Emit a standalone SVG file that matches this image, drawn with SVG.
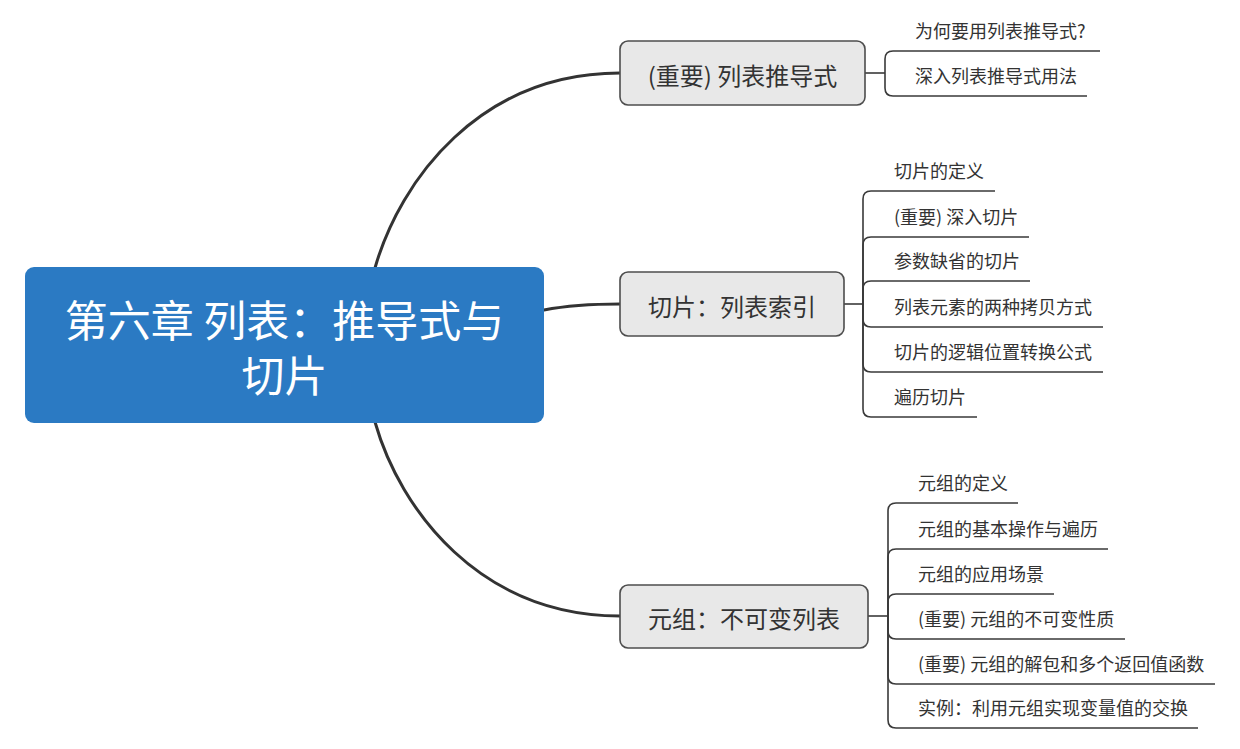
<svg xmlns="http://www.w3.org/2000/svg" width="1240" height="749" viewBox="0 0 1240 749">
<style>
.main{fill:none;stroke:#333;stroke-width:3;stroke-linecap:round}
.sub{fill:none;stroke:#3a3a3a;stroke-width:1.6}
.branch rect{fill:#e8e8e8;stroke:#4d4d4d;stroke-width:1.6}
.bt{font-family:"Noto Sans CJK SC","Noto Sans",sans-serif;font-size:24px;fill:#333;text-anchor:middle;dominant-baseline:central}
.st{font-family:"Noto Sans CJK SC","Noto Sans",sans-serif;font-size:18px;fill:#333}
.ct{font-family:"Noto Sans CJK SC","Noto Sans",sans-serif;font-size:43px;fill:#fff;text-anchor:middle;dominant-baseline:central}
</style>
<rect width="1240" height="749" fill="#fff"/>
<g id="connectors">
<path class="main" d="M375 268 C400 180 480 73 620 73"/>
<path class="main" d="M544 310 C570 305 590 304 620 304"/>
<path class="main" d="M375 422 C400 510 480 616 620 616"/>
<path class="sub" d="M865 73 H885"/>
<path class="sub" d="M885 73 V59 Q885 51 893 51 H1100"/>
<path class="sub" d="M885 73 V88 Q885 96 893 96 H1087"/>
<path class="sub" d="M844 304 H863"/>
<path class="sub" d="M863 304 V199 Q863 191 871 191 H995"/>
<path class="sub" d="M863 304 V245 Q863 237 871 237 H1029"/>
<path class="sub" d="M863 304 V289 Q863 281 871 281 H1030"/>
<path class="sub" d="M863 304 V319 Q863 327 871 327 H1103"/>
<path class="sub" d="M863 304 V364 Q863 372 871 372 H1103"/>
<path class="sub" d="M863 304 V409 Q863 417 871 417 H977"/>
<path class="sub" d="M868 616 H888"/>
<path class="sub" d="M888 616 V511 Q888 503 896 503 H1018"/>
<path class="sub" d="M888 616 V557 Q888 549 896 549 H1108"/>
<path class="sub" d="M888 616 V602 Q888 594 896 594 H1054"/>
<path class="sub" d="M888 616 V631 Q888 639 896 639 H1125"/>
<path class="sub" d="M888 616 V676 Q888 684 896 684 H1215"/>
<path class="sub" d="M888 616 V720 Q888 728 896 728 H1198"/>
</g>
<g id="central">
<rect x="25" y="267" width="519" height="156" rx="9" fill="#2b7ac3"/>
<text class="ct"><tspan x="284.5" y="318">第六章 列表：推导式与</tspan><tspan x="284.5" y="373">切片</tspan></text>
</g>
<g id="b1" class="branch">
<rect x="620" y="41" width="245" height="64" rx="8"/>
<text class="bt" x="742.5" y="74">(重要) 列表推导式</text>
</g>
<g id="b2" class="branch">
<rect x="620" y="272" width="224" height="64" rx="8"/>
<text class="bt" x="732" y="305">切片：列表索引</text>
</g>
<g id="b3" class="branch">
<rect x="620" y="585" width="248" height="63" rx="8"/>
<text class="bt" x="744" y="617">元组：不可变列表</text>
</g>
<g id="b1-subs">
<text class="st" x="915" y="38">为何要用列表推导式?</text>
<text class="st" x="915" y="83">深入列表推导式用法</text>
</g>
<g id="b2-subs">
<text class="st" x="894" y="178">切片的定义</text>
<text class="st" x="894" y="224">(重要) 深入切片</text>
<text class="st" x="894" y="268">参数缺省的切片</text>
<text class="st" x="894" y="314">列表元素的两种拷贝方式</text>
<text class="st" x="894" y="359">切片的逻辑位置转换公式</text>
<text class="st" x="894" y="404">遍历切片</text>
</g>
<g id="b3-subs">
<text class="st" x="918" y="490">元组的定义</text>
<text class="st" x="918" y="536">元组的基本操作与遍历</text>
<text class="st" x="918" y="581">元组的应用场景</text>
<text class="st" x="918" y="626">(重要) 元组的不可变性质</text>
<text class="st" x="918" y="671">(重要) 元组的解包和多个返回值函数</text>
<text class="st" x="918" y="715">实例：利用元组实现变量值的交换</text>
</g>
</svg>
